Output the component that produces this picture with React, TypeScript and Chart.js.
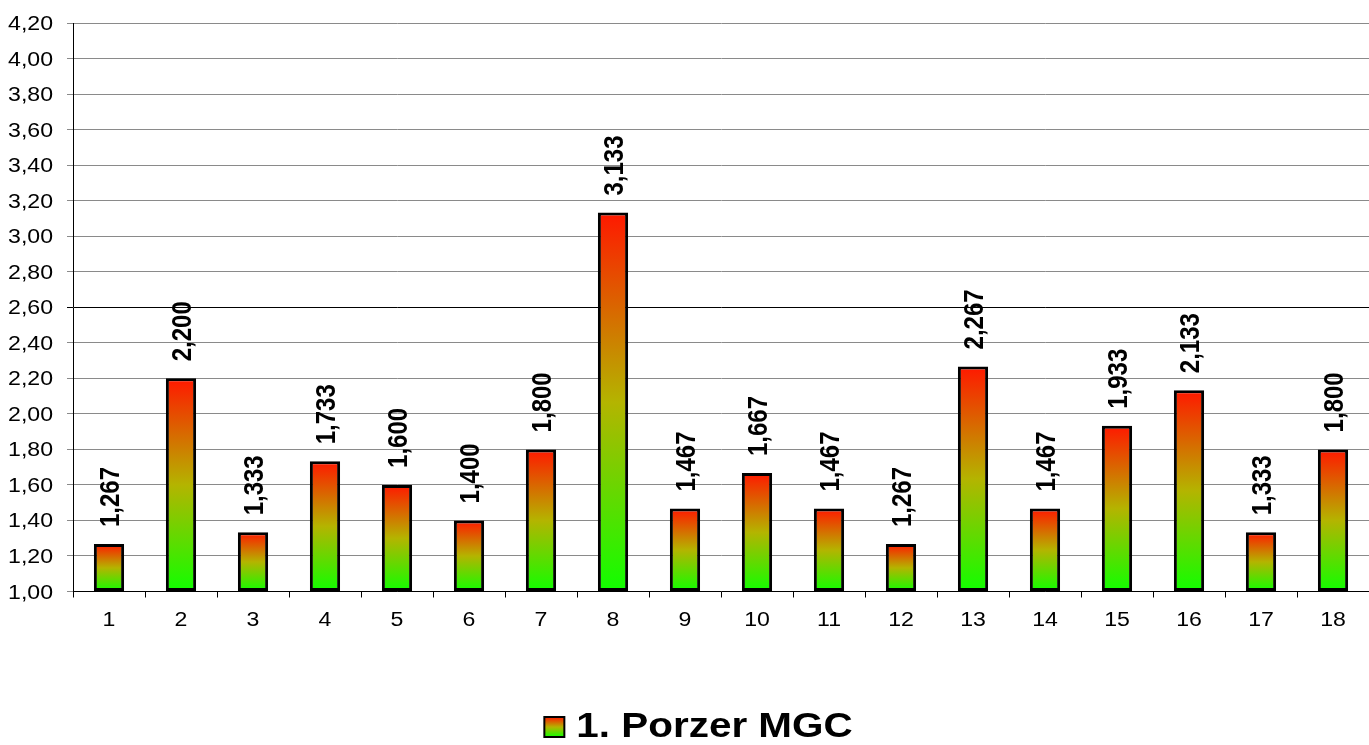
import React, { useEffect, useRef } from "react";
import { Chart, registerables } from "chart.js";

Chart.register(...registerables);

const categories = ["1", "2", "3", "4", "5", "6", "7", "8", "9", "10", "11", "12", "13", "14", "15", "16", "17", "18"];
const seriesName = "1. Porzer MGC";
const values = [1.267, 2.2, 1.333, 1.733, 1.6, 1.4, 1.8, 3.133, 1.467, 1.667, 1.467, 1.267, 2.267, 1.467, 1.933, 2.133, 1.333, 1.8];
const yMin = 1.0;
const yMax = 4.2;
const yStep = 0.2;
const highlightedGridValue = 2.6;

const FONT = '"Liberation Sans", Arial, sans-serif';
const W = 1369;
const H = 745;
const STRETCH = 1.155;

function makeGradient(ctx: CanvasRenderingContext2D, yBottom: number, yTop: number) {
  const g = ctx.createLinearGradient(0, yBottom, 0, yTop);
  g.addColorStop(0, "#10ff00");
  g.addColorStop(0.5, "#b4b400");
  g.addColorStop(1, "#ff1800");
  return g;
}

function stretchedText(
  ctx: CanvasRenderingContext2D,
  text: string,
  x: number,
  y: number,
  align: CanvasTextAlign,
) {
  ctx.save();
  ctx.translate(x, y);
  ctx.scale(STRETCH, 1);
  ctx.textAlign = align;
  ctx.textBaseline = "alphabetic";
  ctx.fillText(text, 0, 0);
  ctx.restore();
}

const tickLabelsPlugin = {
  id: "tickLabels",
  afterDraw(chart: any) {
    const ctx: CanvasRenderingContext2D = chart.ctx;
    const ys = chart.scales.y;
    const xs = chart.scales.x;
    ctx.save();
    ctx.fillStyle = "#000";
    ctx.font = `20px ${FONT}`;
    ys.ticks.forEach((t: any, i: number) => {
      const y = ys.getPixelForTick(i);
      const txt = Number(t.value).toFixed(2).replace(".", ",");
      stretchedText(ctx, txt, ys.left + 53, y + 7, "right");
    });
    xs.ticks.forEach((t: any, i: number) => {
      const x = xs.getPixelForTick(i);
      const txt = String(chart.data.labels[i]);
      stretchedText(ctx, txt, x, xs.top + 34.5, "center");
    });
    ctx.restore();
  },
};

const valueLabelsPlugin = {
  id: "valueLabels",
  afterDatasetsDraw(chart: any) {
    const ctx: CanvasRenderingContext2D = chart.ctx;
    const meta = chart.getDatasetMeta(0);
    const data = chart.data.datasets[0].data as number[];
    ctx.save();
    ctx.fillStyle = "#000";
    ctx.font = `bold 24px ${FONT}`;
    ctx.textAlign = "left";
    ctx.textBaseline = "middle";
    meta.data.forEach((el: any, i: number) => {
      const txt = data[i].toFixed(3).replace(".", ",");
      ctx.save();
      ctx.translate(el.x + 2, el.y - 17);
      ctx.scale(STRETCH, 1);
      ctx.rotate(-Math.PI / 2);
      ctx.fillText(txt, 0, 0);
      ctx.restore();
    });
    ctx.restore();
  },
};

const customLegendPlugin = {
  id: "customLegend",
  afterDraw(chart: any) {
    const ctx: CanvasRenderingContext2D = chart.ctx;
    const label = chart.data.datasets[0].label as string;
    ctx.save();
    ctx.font = `bold 35px ${FONT}`;
    const tw = ctx.measureText(label).width * STRETCH;
    const box = 20;
    const gap = 12;
    const total = box + gap + tw;
    const cx = chart.width / 2 + 14;
    const x0 = cx - total / 2;
    const baseline = 737;
    const boxTop = 717;
    ctx.fillStyle = makeGradient(ctx, boxTop + box, boxTop);
    ctx.fillRect(x0, boxTop, box, box);
    ctx.lineWidth = 2;
    ctx.strokeStyle = "#000";
    ctx.strokeRect(x0, boxTop, box, box);
    ctx.fillStyle = "#000";
    stretchedText(ctx, label, x0 + box + gap, baseline, "left");
    ctx.restore();
  },
};

export default function App() {
  const ref = useRef<HTMLCanvasElement | null>(null);

  useEffect(() => {
    if (!ref.current) return;
    const chart = new Chart(ref.current, {
      type: "bar",
      data: {
        labels: categories,
        datasets: [
          {
            label: seriesName,
            data: values,
            base: yMin,
            borderColor: "#000",
            borderWidth: 3,
            borderSkipped: false,
            categoryPercentage: 1,
            barPercentage: 0.42,
            backgroundColor: (c: any) => {
              const chart = c.chart;
              const { chartArea, scales } = chart;
              if (!chartArea || typeof c.raw !== "number") return "#ff1800";
              const yTop = scales.y.getPixelForValue(c.raw);
              const yBot = scales.y.getPixelForValue(yMin);
              return makeGradient(chart.ctx, yBot, yTop);
            },
          } as any,
        ],
      },
      options: {
        responsive: false,
        animation: false,
        devicePixelRatio: 1,
        layout: { padding: { top: 23, left: 0, right: 0, bottom: 0 } },
        plugins: {
          legend: { display: false },
          tooltip: { enabled: false },
        },
        scales: {
          x: {
            offset: true,
            grid: {
              offset: true,
              drawOnChartArea: false,
              drawTicks: true,
              tickLength: 6,
              color: "#000",
            },
            border: { display: true, color: "#000", width: 1 },
            ticks: { display: false, autoSkip: false, maxRotation: 0 },
            afterFit: (scale: any) => {
              scale.height = 153.5;
            },
          },
          y: {
            min: yMin,
            max: yMax,
            grid: {
              color: (c: any) =>
                c.tick && Math.abs(c.tick.value - highlightedGridValue) < 1e-6 ? "#000" : "#8a8a8a",
              lineWidth: 1,
              tickLength: 6,
            },
            border: { display: true, color: "#000", width: 1 },
            ticks: { display: false, stepSize: yStep },
            afterFit: (scale: any) => {
              scale.width = 73;
            },
          },
        },
      },
      plugins: [valueLabelsPlugin, tickLabelsPlugin, customLegendPlugin],
    });
    return () => chart.destroy();
  }, []);

  return (
    <div style={{ position: "absolute", left: 0, top: 0, width: W, height: H, background: "#fff" }}>
      <canvas ref={ref} width={W} height={H} style={{ display: "block" }} />
    </div>
  );
}
